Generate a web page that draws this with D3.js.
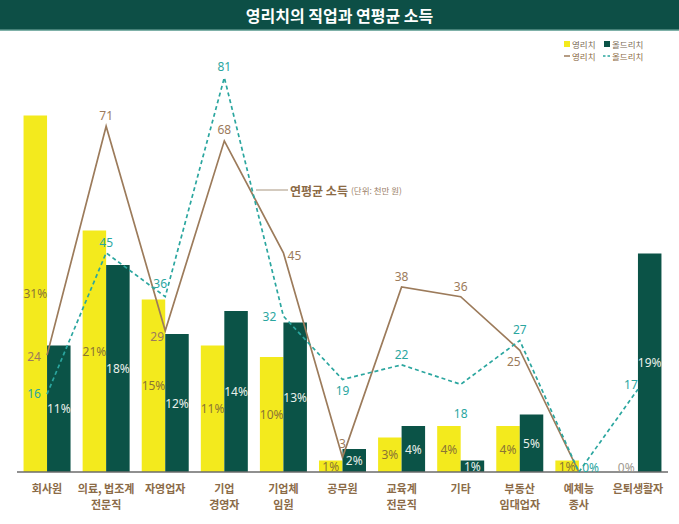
<!DOCTYPE html>
<html>
<head>
<meta charset="utf-8">
<script src="https://cdn.jsdelivr.net/npm/d3@7"></script>
<style>
  html, body { margin: 0; padding: 0; background: #ffffff; }
  svg { display: block; }
  text { font-family: "Noto Sans", "Noto Sans CJK KR", sans-serif; }
  .kr { font-family: "Noto Sans CJK KR", "Noto Sans", sans-serif; }
</style>
</head>
<body>
<svg id="chart" width="679" height="524"></svg>
<script>
// ---- data ----
const categories = [
  ["회사원"],
  ["의료, 법조계", "전문직"],
  ["자영업자"],
  ["기업", "경영자"],
  ["기업체", "임원"],
  ["공무원"],
  ["교육계", "전문직"],
  ["기타"],
  ["부동산", "임대업자"],
  ["예체능", "종사"],
  ["은퇴생활자"]
];
const youngRichShare = [31, 21, 15, 11, 10, 1, 3, 4, 4, 1, 0];   // 영리치 (%)
const oldRichShare   = [11, 18, 12, 14, 13, 2, 4, 1, 5, 0, 19];  // 올드리치 (%)
const youngRichIncome = [24, 71, 29, 68, 45, 3, 38, 36, 25, 0, null]; // 천만 원
const oldRichIncome   = [16, 45, 36, 81, 32, 19, 22, 18, 27, 0, 17];  // 천만 원
const seriesNames = ["영리치", "올드리치"];
const titleText = "영리치의 직업과 연평균 소득";
const annotationMain = "연평균 소득";
const annotationUnit = "(단위: 천만 원)";

// label placement (layout only): [dx, dy] relative to point, null = no label
const youngLabelOffset = [[-13,1],[0,-11],[-8,6],[0,-11],[11,3],[0,-14],[0,-10],[0,-10],[-6,11],null,null];
const oldLabelOffset   = [[-13,-1],[0,-10],[-5,-13],[0,-11],[-14,0],[0,11],[0,-10],[0,29],[0,-11],null,[-7,-5]];

// ---- colours ----
const C = {
  header: "#0d4f46",
  headerLine: "#7fb1a8",
  yellow: "#f3ea1d",
  green: "#0b5347",
  brown: "#9c7b5b",
  teal: "#2ba69f",
  yLabel: "#8a7535",
  gLabel: "#e9f0ea",
  cat: "#8b6b47",
  axis: "#6b6b6b"
};

const svg = d3.select("#chart");
const W = 679, H = 524;
const baseY = 472;

// header
svg.append("rect").attr("x", 0).attr("y", 0).attr("width", W).attr("height", 30).attr("fill", C.header);
svg.append("rect").attr("x", 0).attr("y", 29.5).attr("width", W).attr("height", 1.5).attr("fill", C.headerLine);
svg.append("text").attr("class", "kr")
  .attr("x", W / 2).attr("y", 15).attr("text-anchor", "middle").attr("dominant-baseline", "central")
  .attr("fill", "#ffffff").attr("font-size", 16).attr("font-weight", 700)
  .text(titleText);

// scales
const x = d3.scaleBand().domain(d3.range(categories.length)).range([17.5, 667.5]).padding(0);
const barW = 23.5;
const yBar = d3.scaleLinear().domain([0, 40]).range([baseY, baseY - 460]);
const yLine = d3.scaleLinear().domain([0, 100]).range([baseY, baseY - 487]);
const cx = i => x(i) + x.bandwidth() / 2;

// bars
const gBars = svg.append("g");
gBars.selectAll("rect.y").data(youngRichShare).join("rect")
  .attr("x", (d, i) => cx(i) - barW).attr("width", barW)
  .attr("y", d => yBar(d)).attr("height", d => baseY - yBar(d))
  .attr("fill", C.yellow);
gBars.selectAll("rect.g").data(oldRichShare).join("rect")
  .attr("x", (d, i) => cx(i)).attr("width", barW)
  .attr("y", d => yBar(d)).attr("height", d => baseY - yBar(d))
  .attr("fill", C.green);

// axis baseline
const xAxis = d3.axisBottom(x).tickSize(0).tickFormat("");
const axG = svg.append("g").attr("transform", `translate(0,${baseY})`).call(xAxis);
axG.select(".domain").attr("stroke", C.axis).attr("stroke-width", 1.5).attr("d", "M17,0H668");

// category labels
const catG = svg.append("g");
categories.forEach((lines, i) => {
  const t = catG.append("text").attr("class", "kr")
    .attr("x", cx(i)).attr("y", 488).attr("text-anchor", "middle")
    .attr("dominant-baseline", "central")
    .attr("fill", C.cat).attr("font-size", 11).attr("font-weight", 700);
  lines.forEach((ln, j) => {
    t.append("tspan").attr("x", cx(i)).attr("dy", j === 0 ? 0 : 16).text(ln);
  });
});

// bar labels
function barLabelY(d) {
  if (d === 0) return baseY - 5;
  return (yBar(d) + baseY) / 2;
}
svg.append("g").selectAll("text").data(youngRichShare).join("text")
  .attr("x", (d, i) => cx(i) - barW / 2).attr("y", d => barLabelY(d))
  .attr("text-anchor", "middle").attr("dominant-baseline", "central")
  .attr("font-size", 12)
  .attr("fill", d => d === 0 ? "#a09a90" : C.yLabel)
  .text(d => d + "%");
svg.append("g").selectAll("text").data(oldRichShare).join("text")
  .attr("x", (d, i) => cx(i) + barW / 2).attr("y", d => barLabelY(d))
  .attr("text-anchor", "middle").attr("dominant-baseline", "central")
  .attr("font-size", 12)
  .attr("fill", d => d === 0 ? C.teal : C.gLabel)
  .text(d => d + "%");

// lines
const lineGen = d3.line()
  .defined(d => d.v !== null)
  .x(d => cx(d.i)).y(d => yLine(d.v));
const youngPts = youngRichIncome.map((v, i) => ({ v, i }));
const oldPts = oldRichIncome.map((v, i) => ({ v, i }));

svg.append("path").datum(youngPts).attr("d", lineGen)
  .attr("fill", "none").attr("stroke", C.brown).attr("stroke-width", 1.7);
svg.append("path").datum(oldPts).attr("d", lineGen)
  .attr("fill", "none").attr("stroke", C.teal).attr("stroke-width", 1.7)
  .attr("stroke-dasharray", "4,3");

// line labels
svg.append("g").selectAll("text").data(youngPts.filter(p => p.v !== null && youngLabelOffset[p.i]))
  .join("text")
  .attr("x", p => cx(p.i) + youngLabelOffset[p.i][0])
  .attr("y", p => yLine(p.v) + youngLabelOffset[p.i][1])
  .attr("text-anchor", "middle").attr("dominant-baseline", "central")
  .attr("font-size", 12).attr("fill", C.brown)
  .text(p => p.v);
svg.append("g").selectAll("text").data(oldPts.filter(p => p.v !== null && oldLabelOffset[p.i]))
  .join("text")
  .attr("x", p => cx(p.i) + oldLabelOffset[p.i][0])
  .attr("y", p => yLine(p.v) + oldLabelOffset[p.i][1])
  .attr("text-anchor", "middle").attr("dominant-baseline", "central")
  .attr("font-size", 12).attr("fill", C.teal)
  .text(p => p.v);

// annotation
svg.append("line").attr("x1", 256).attr("x2", 288).attr("y1", 190).attr("y2", 190)
  .attr("stroke", "#a8957f").attr("stroke-width", 1);
const ann = svg.append("text").attr("class", "kr").attr("x", 290).attr("y", 190)
  .attr("dominant-baseline", "central").attr("fill", "#8b6a45");
ann.append("tspan").attr("font-size", 12).attr("font-weight", 700).text(annotationMain);
ann.append("tspan").attr("font-size", 8.5).attr("dx", 3).attr("fill", "#9a8068").text(annotationUnit);

// legend
const lg = svg.append("g").attr("class", "kr");
lg.append("rect").attr("x", 564).attr("y", 41).attr("width", 6).attr("height", 6).attr("fill", C.yellow);
lg.append("text").attr("x", 572).attr("y", 44.5).attr("dominant-baseline", "central")
  .attr("font-size", 8.5).attr("fill", "#7a6a55").text(seriesNames[0]);
lg.append("rect").attr("x", 604).attr("y", 41).attr("width", 6).attr("height", 6).attr("fill", C.green);
lg.append("text").attr("x", 612).attr("y", 44.5).attr("dominant-baseline", "central")
  .attr("font-size", 8.5).attr("fill", "#7a6a55").text(seriesNames[1]);
lg.append("line").attr("x1", 564).attr("x2", 570).attr("y1", 56).attr("y2", 56)
  .attr("stroke", C.brown).attr("stroke-width", 1.5);
lg.append("text").attr("x", 572).attr("y", 56).attr("dominant-baseline", "central")
  .attr("font-size", 8.5).attr("fill", "#8b6a45").text(seriesNames[0]);
lg.append("line").attr("x1", 603).attr("x2", 611).attr("y1", 56).attr("y2", 56)
  .attr("stroke", C.teal).attr("stroke-width", 1.5).attr("stroke-dasharray", "2.5,2");
lg.append("text").attr("x", 612).attr("y", 56).attr("dominant-baseline", "central")
  .attr("font-size", 8.5).attr("fill", "#8b6a45").text(seriesNames[1]);
</script>
</body>
</html>
